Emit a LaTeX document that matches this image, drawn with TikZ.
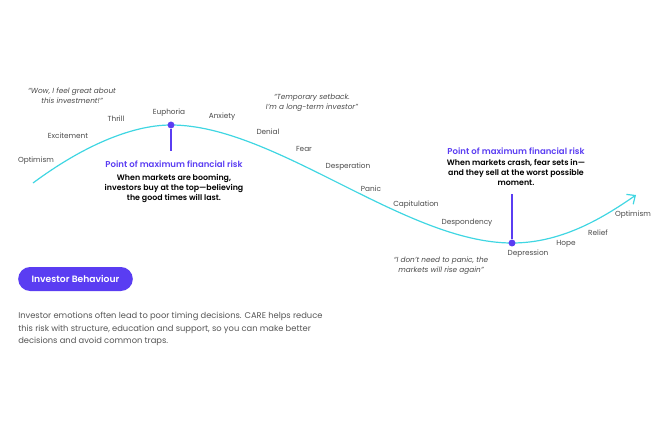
\documentclass[tikz,border=0pt]{standalone}
\usepackage{fontspec}
\setmainfont{Poppins}
\newfontfamily\popmedium{Poppins Medium}
\newfontfamily\popsemi{Poppins SemiBold}
\usetikzlibrary{arrows.meta}
\definecolor{curvecyan}{HTML}{40D6E2}
\definecolor{carepurple}{HTML}{5A3DF2}
\definecolor{labelgray}{HTML}{4A4A4A}
\definecolor{bodygray}{HTML}{555555}

\begin{document}
\begin{tikzpicture}[x=.75pt,y=-.75pt,
  stage/.style={font=\fontsize{5.5}{6.5}\selectfont,text=labelgray,inner sep=0pt},
  quote/.style={font=\itshape\fontsize{5.5}{7.2}\selectfont,text=labelgray,align=center,inner sep=0pt},
  risktitle/.style={font=\popsemi\fontsize{6.4}{7.5}\selectfont,text=carepurple,inner sep=0pt},
  riskbody/.style={font=\popsemi\fontsize{5.9}{7.5}\selectfont,text=black,align=center,inner sep=0pt},
  dot/.style={circle,fill=carepurple,minimum size=5.2pt,inner sep=0pt}]
\path[use as bounding box] (0,0) rectangle (671,436);

% curve
\draw[curvecyan,line width=.9pt,-{Straight Barb[length=5pt,width=9pt]}]
  (33,183) .. controls (80,148) and (130,125) .. (171,125)
  .. controls (275,125) and (405,243) .. (512,243)
  .. controls (560,243) and (600,220) .. (636,195);

% dots and pointers
\node[dot] (peak) at (171,125) {};
\coordinate (peakfoot) at (171,151);
\draw[carepurple,line width=.8pt] (peak) -- (peakfoot);
\node[dot] (trough) at (512,243) {};
\coordinate (troughtop) at (512,194);
\draw[carepurple,line width=.8pt] (troughtop) -- (trough);

% stages
\node[stage] (optimismA) at (36,161) {Optimism};
\node[stage] (excitement) at (68,136) {Excitement};
\node[stage] (thrill) at (116,119) {Thrill};
\node[stage] (euphoria) at (169,113) {Euphoria};
\node[stage] (anxiety) at (222,117) {Anxiety};
\node[stage] (denial) at (268,132) {Denial};
\node[stage] (fear) at (304,149) {Fear};
\node[stage] (desperation) at (348,167) {Desperation};
\node[stage] (panic) at (371,189) {Panic};
\node[stage] (capitulation) at (416,205) {Capitulation};
\node[stage] (despondency) at (467,223) {Despondency};
\node[stage] (depression) at (528,254) {Depression};
\node[stage] (hope) at (566,244) {Hope};
\node[stage] (relief) at (598,233) {Relief};
\node[stage] (optimismB) at (633,215) {Optimism};

% quotes
\node[quote] (quoteWow) at (72,95.5) {“Wow, I feel great about\\this investment!”};
\node[quote] (quoteSetback) at (312,103) {“Temporary setback.\\I’m a long-term investor”};
\node[quote] (quotePanic) at (441,265.5) {“I don’t need to panic, the\\markets will rise again”};

% risk notes
\node[risktitle] (topTitle) at (174,164) {Point of maximum financial risk};
\node[riskbody] (topBody) at (174,188) {When markets are booming,\\investors buy at the top—believing\\the good times will last.};
\node[risktitle] (lowTitle) at (516,151) {Point of maximum financial risk};
\node[riskbody] (lowBody) at (516,172) {When markets crash, fear sets in—\\and they sell at the worst possible\\moment.};

% button and text
\node[fill=carepurple,rounded corners=9pt,minimum width=86pt,minimum height=18pt,
  text=white,font=\popsemi\fontsize{6.9}{7.5}\selectfont,inner sep=0pt] (badge) at (75.5,279) {Investor Behaviour};
\node[anchor=north west,align=left,text=bodygray,font=\fontsize{6.25}{9.4}\selectfont,inner sep=0pt] (blurb) at (18,312)
  {Investor emotions often lead to poor timing decisions. CARE helps reduce\\this risk with structure, education and support, so you can make better\\decisions and avoid common traps.};
\end{tikzpicture}
\end{document}
